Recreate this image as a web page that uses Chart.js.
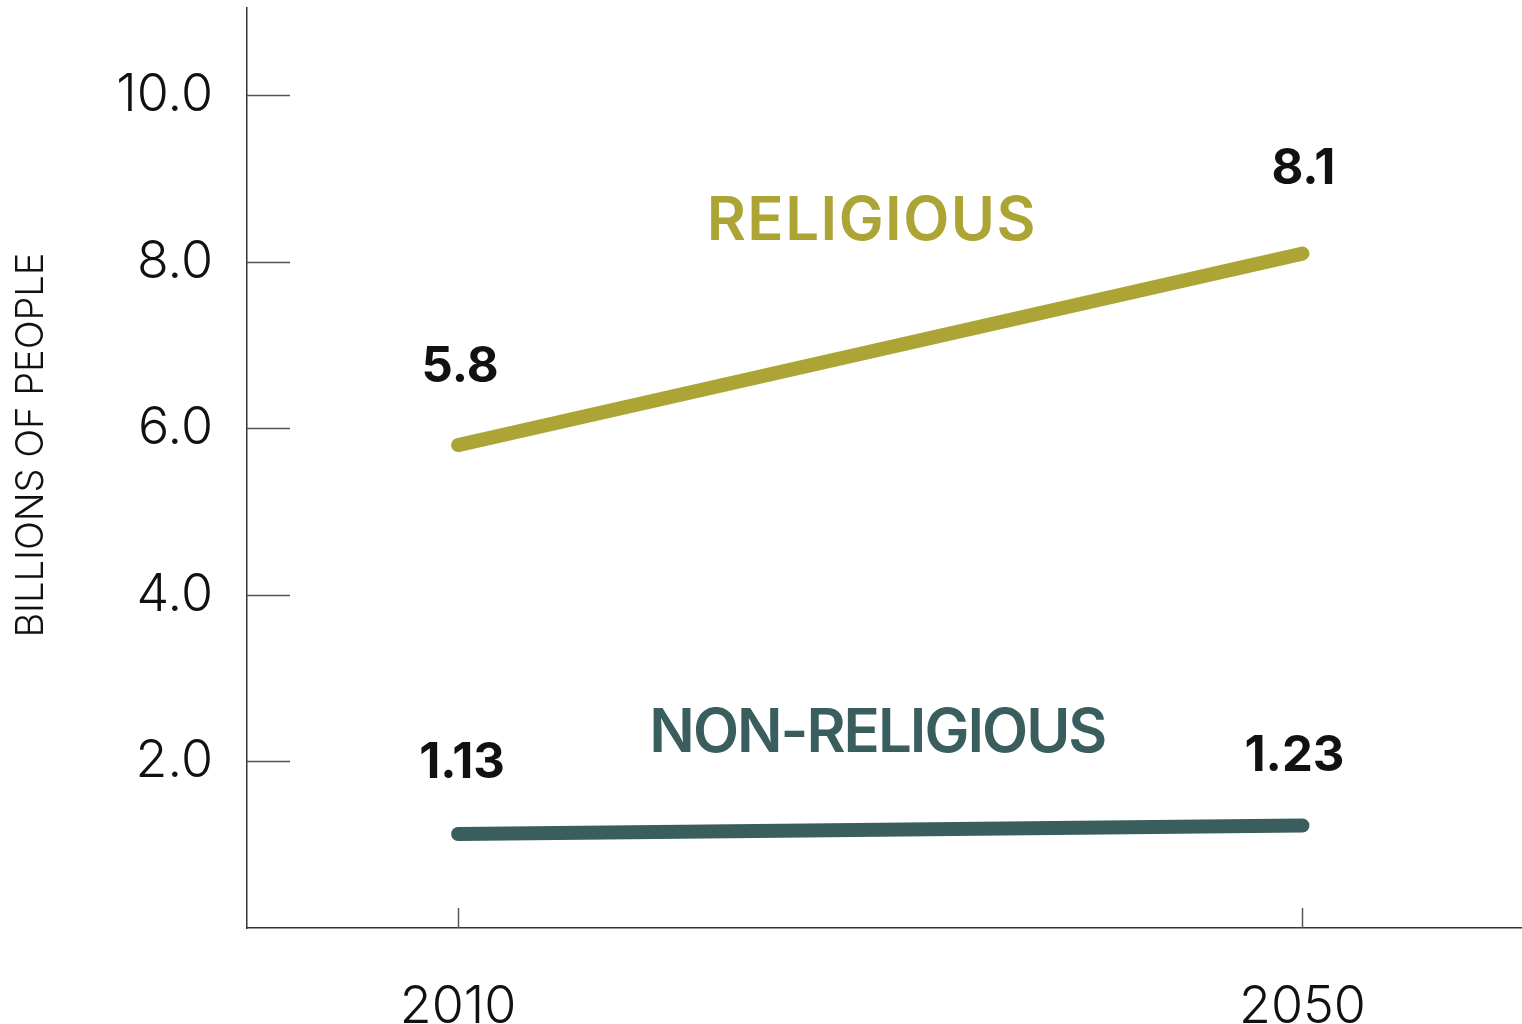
<!DOCTYPE html>
<html>
<head>
<meta charset="utf-8">
<script src="https://cdn.jsdelivr.net/npm/chart.js@4/dist/chart.umd.min.js"></script>
<style>
  html, body { margin: 0; padding: 0; background: #fff; }
  #wrap { width: 1522px; height: 1024px; }
</style>
</head>
<body>
<div id="wrap"><canvas id="chart"></canvas></div>
<script>
// data
var years = [2010, 2050];
var religious = [5.8, 8.1];
var nonReligious = [1.13, 1.23];
var religiousLabels = ['5.8', '8.1'];
var nonReligiousLabels = ['1.13', '1.23'];
var yTicks = [2, 4, 6, 8, 10];

var OLIVE = '#aca536', TEAL = '#3a5e5d';
var FONT = 'Inter, "Open Sans", sans-serif';

function pts(vals) {
  return years.map(function (y, i) { return { x: y, y: vals[i] }; });
}

// value labels, series names, axis title and inward tick marks
var annotate = {
  id: 'annotate',
  afterDatasetsDraw: function (chart) {
    var c = chart.ctx, xs = chart.scales.x, ys = chart.scales.y;
    c.save();
    c.strokeStyle = '#555';
    c.lineWidth = 1.5;
    yTicks.forEach(function (v) {
      var py = Math.round(ys.getPixelForValue(v)) + 0.5;
      c.beginPath();
      c.moveTo(xs.left, py);
      c.lineTo(xs.left + 43, py);
      c.stroke();
    });
    years.forEach(function (v) {
      var px = Math.round(xs.getPixelForValue(v)) + 0.5;
      c.beginPath();
      c.moveTo(px, ys.bottom);
      c.lineTo(px, ys.bottom - 20);
      c.stroke();
    });

    // y axis title, sits a bit above the middle in the original
    c.save();
    c.translate(32, ys.getPixelForValue(5.8));
    c.rotate(-Math.PI / 2);
    c.textAlign = 'center';
    c.textBaseline = 'middle';
    c.fillStyle = '#111';
    c.font = '300 38px ' + FONT;
    c.fillText('BILLIONS OF PEOPLE', 0, 0);
    c.restore();

    c.textAlign = 'center';
    c.textBaseline = 'alphabetic';
    c.fillStyle = '#111';
    c.font = '700 49px ' + FONT;
    var offs = [[-63, -70], [-56, -55]];
    var xoff = [[2, 1], [4, -8]];
    [religious, nonReligious].forEach(function (vals, s) {
      var labs = s === 0 ? religiousLabels : nonReligiousLabels;
      vals.forEach(function (v, i) {
        c.fillText(labs[i], xs.getPixelForValue(years[i]) + xoff[s][i],
          ys.getPixelForValue(v) + offs[s][i]);
      });
    });

    c.font = '600 60px ' + FONT;
    c.fillStyle = OLIVE;
    c.letterSpacing = '1.5px';
    c.fillText('RELIGIOUS', xs.getPixelForValue(2029.6), ys.getPixelForValue(8.26));
    c.fillStyle = TEAL;
    c.letterSpacing = '-2px';
    c.fillText('NON-RELIGIOUS', xs.getPixelForValue(2029.86), ys.getPixelForValue(2.11));
    c.restore();
  }
};

new Chart(document.getElementById('chart'), {
  type: 'line',
  data: {
    datasets: [
      { label: 'Religious', data: pts(religious), borderColor: OLIVE },
      { label: 'Non-religious', data: pts(nonReligious), borderColor: TEAL }
    ]
  },
  options: {
    responsive: true,
    maintainAspectRatio: false,
    animation: false,
    layout: { padding: { top: 8, right: 0, left: 0, bottom: 0 } },
    elements: {
      line: { borderWidth: 14, borderCapStyle: 'round', tension: 0 },
      point: { radius: 0 }
    },
    plugins: { legend: { display: false }, tooltip: { enabled: false } },
    scales: {
      x: {
        type: 'linear',
        min: 2000,
        max: 2060.4,
        afterBuildTicks: function (s) { s.ticks = years.map(function (v) { return { value: v }; }); },
        afterFit: function (s) { s.height = 96; s.paddingLeft = 0; s.paddingRight = 0; },
        grid: { display: false, drawTicks: false },
        border: { display: true, color: '#333', width: 1.5 },
        ticks: {
          padding: 48,
          color: '#111',
          font: { family: FONT, size: 52, weight: '300' },
          maxRotation: 0,
          callback: function (v) { return String(v); }
        }
      },
      y: {
        min: 0,
        max: 11.05,
        afterBuildTicks: function (s) { s.ticks = yTicks.map(function (v) { return { value: v }; }); },
        afterFit: function (s) { s.width = 247; s.paddingTop = 0; s.paddingBottom = 0; },
        grid: { display: false, drawTicks: false },
        border: { display: true, color: '#333', width: 1.5 },
        ticks: {
          padding: 34,
          color: '#111',
          font: { family: FONT, size: 52, weight: '300' },
          callback: function (v) { return v.toFixed(1); }
        }
      }
    }
  },
  plugins: [annotate]
});
</script>
</body>
</html>
